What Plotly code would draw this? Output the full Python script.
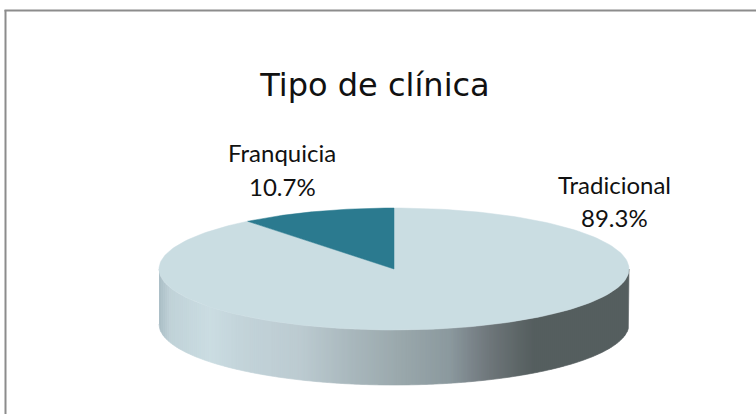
import numpy as np
import plotly.graph_objects as go

labels = ["Tradicional", "Franquicia"]
values = [89.3, 10.7]
title = "Tipo de clínica"

# look of the fake 3d disc, all in figure pixels
WIDTH, HEIGHT = 756, 414
CX, CY = 394, 269
RX, RY = 235, 61
DEPTH = 55
slice_colors = ["#cadde2", "#2b7a8f"]
label_pos = [(614, 184, 217), (282, 152, 186)]

# side wall shading: (pixel x, colour)
wall_stops = [
    (159, "#aabdc5"), (170, "#c0d2d8"), (210, "#cbdde2"), (240, "#c3d4da"),
    (300, "#bccbd1"), (350, "#a9b8bd"), (400, "#9aa8ac"), (450, "#8b999e"),
    (470, "#7c868c"), (490, "#6e767a"), (520, "#5c6566"), (535, "#555e5f"),
    (629, "#555e5f"),
]


def hex_to_rgb(c):
    return [int(c[i:i + 2], 16) for i in (1, 3, 5)]


def wall_color(px):
    xs = [s[0] for s in wall_stops]
    rgb = np.array([hex_to_rgb(s[1]) for s in wall_stops])
    r, g, b = [int(round(np.interp(px, xs, rgb[:, i]))) for i in range(3)]
    return f"rgb({r},{g},{b})"


def slice_xy(start, end):
    """Wedge on the top face, angles clockwise from 12 o'clock in radians"""
    a = np.linspace(start, end, 200)
    x = np.concatenate([[0], np.sin(a), [0]])
    y = np.concatenate([[0], np.cos(a) * RY / RX, [0]])
    return x, y


fig = go.Figure()

# wall first, one thin strip per 2 px
edges = np.arange(CX - RX, CX + RX + 1, 2)
for left, right in zip(edges[:-1], edges[1:]):
    xs = (np.linspace(left, right, 4) - CX) / RX
    top = -np.sqrt(np.clip(1 - xs ** 2, 0, 1)) * RY / RX
    bottom = top - DEPTH / RX
    color = wall_color((left + right) / 2)
    fig.add_trace(go.Scatter(
        x=np.concatenate([xs, xs[::-1]]),
        y=np.concatenate([top, bottom[::-1]]),
        mode="lines",
        fill="toself",
        fillcolor=color,
        line=dict(color=color, width=0.6),
        hoverinfo="skip",
        showlegend=False,
    ))

# top face
total = sum(values)
start = 0.0
for name, val, color in zip(labels, values, slice_colors):
    end = start + val / total * 2 * np.pi
    x, y = slice_xy(start, end)
    fig.add_trace(go.Scatter(
        x=x,
        y=y,
        mode="lines",
        fill="toself",
        fillcolor=color,
        line=dict(color=color, width=0.5),
        name=name,
        showlegend=False,
    ))
    start = end

# slice labels, name and percent sit far apart so they are separate texts
annotations = []
for name, val, (px, y1, y2) in zip(labels, values, label_pos):
    for text, py in ((name, y1), (f"{val:.1f}%", y2)):
        annotations.append(dict(
            x=px / WIDTH,
            y=1 - py / HEIGHT,
            xref="paper",
            yref="paper",
            text=text,
            showarrow=False,
            font=dict(family="Lato", size=24, color="#111111"),
            xanchor="center",
            yanchor="middle",
        ))

fig.update_layout(
    width=WIDTH,
    height=HEIGHT,
    margin=dict(l=0, r=0, t=0, b=0),
    paper_bgcolor="white",
    plot_bgcolor="white",
    title=dict(
        text=title,
        x=375 / WIDTH,
        y=1 - 85 / HEIGHT,
        xanchor="center",
        yanchor="middle",
        font=dict(family="DejaVu Sans", size=32, color="#111111"),
    ),
    xaxis=dict(range=[-CX / RX, (WIDTH - CX) / RX], visible=False),
    yaxis=dict(range=[-(HEIGHT - CY) / RX, CY / RX], visible=False),
    annotations=annotations,
    # the frame only shows on the left and top
    shapes=[
        dict(type="line", xref="paper", yref="paper", x0=5.5 / WIDTH, x1=5.5 / WIDTH,
             y0=0, y1=1 - 10 / HEIGHT, line=dict(color="#8c8c8c", width=2)),
        dict(type="line", xref="paper", yref="paper", x0=4.5 / WIDTH, x1=1,
             y0=1 - 10.5 / HEIGHT, y1=1 - 10.5 / HEIGHT, line=dict(color="#8c8c8c", width=2)),
    ],
)

# drop the default page margin so the figure fills the window
fig.write_html(
    "out.html",
    config=dict(displayModeBar=False),
    post_script="document.body.style.margin='0';",
)
